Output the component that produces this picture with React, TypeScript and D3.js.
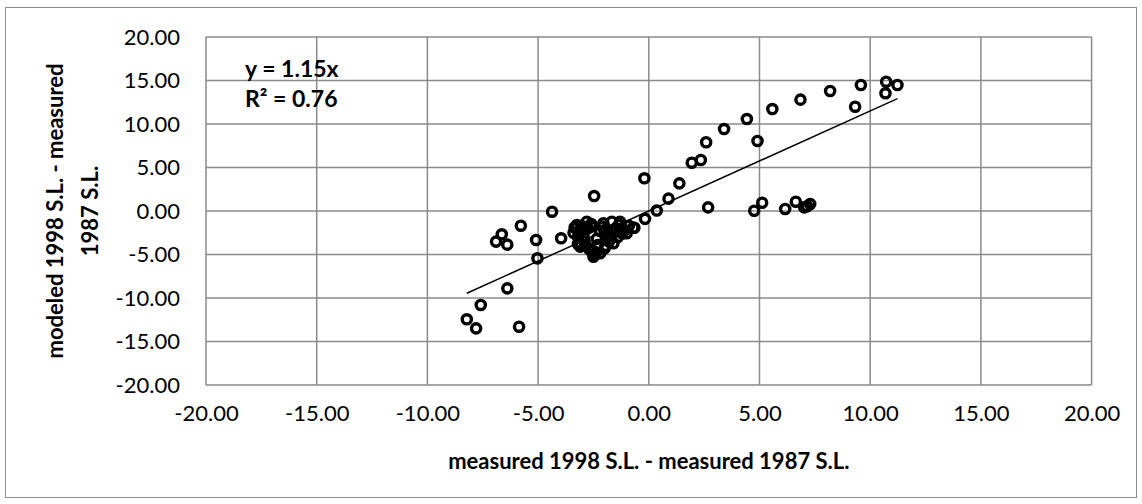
import { useRef, useEffect } from "react";
import * as d3 from "d3";

// measured 1998 S.L. - measured 1987 S.L.
const measured = [
  -0.2, 0.36, 0.89, 1.38, 1.94, 2.35, 2.59, 3.4, 4.43, 4.91, 5.58, 6.85, 8.19, 9.32, 9.58, 10.72, 10.69, 11.23,
  2.68, 4.76, 5.12, 6.16, 6.64, 7.02, 7.29, 7.15,
  -2.47, -4.37, -5.78, -6.64, -6.9, -6.39, -5.09, -5.03, -3.96, -0.17, -0.65,
  -6.39, -7.59, -8.22, -7.8, -5.86,
  -3.25, -2.8, -2.05, -1.67, -1.3, -0.7, -3.1, -2.5, -2.2, -1.6, -1.0,
  -3.4, -3.2, -3.0, -2.9, -2.7, -2.6, -2.2, -2.3, -2.0, -1.9, -1.7, -1.5, -1.4, -1.2, -0.9, -3.3, -2.5, -2.0, -1.8, -1.2,
  -3.35, -3.15, -3.05, -2.95, -2.85, -2.75, -2.6, -2.4, -2.35, -2.1, -1.95, -1.75, -1.55, -1.35, -1.1, -2.45, -2.65, -3.2,
];

// modeled 1998 S.L. - measured 1987 S.L.
const modeled = [
  3.76, 0.05, 1.42, 3.18, 5.55, 5.86, 7.9, 9.42, 10.57, 8.05, 11.72, 12.8, 13.8, 11.99, 14.48, 14.86, 13.53, 14.48,
  0.42, 0.03, 0.95, 0.23, 1.07, 0.42, 0.8, 0.55,
  1.72, -0.08, -1.69, -2.68, -3.52, -3.87, -3.33, -5.44, -3.14, -0.9, -1.92,
  -8.89, -10.8, -12.45, -13.49, -13.3,
  -1.61, -1.23, -1.41, -1.23, -1.23, -1.92, -4.1, -5.25, -4.86, -3.7, -2.56,
  -2.5, -3.0, -2.2, -3.5, -4.3, -1.8, -2.3, -3.9, -2.2, -3.1, -2.5, -2.0, -3.0, -2.0, -1.7, -2.0, -4.6, -4.3, -3.5, -2.6,
  -1.9, -3.6, -1.7, -2.9, -4.0, -2.0, -1.5, -4.9, -3.2, -1.8, -4.0, -2.9, -2.4, -1.6, -2.2, -5.0, -4.5, -3.8,
];

const slope = 1.15;
const rSquared = 0.76;
const ticks = [-20, -15, -10, -5, 0, 5, 10, 15, 20];

const FONT = "Lato, 'Open Sans', sans-serif";

export default function App() {
  const svgRef = useRef<SVGSVGElement>(null);

  useEffect(() => {
    document.body.style.margin = "0";
    if (!svgRef.current) return;
    const svg = d3.select(svgRef.current);
    svg.selectAll("*").remove();

    const W = 1142;
    const H = 504;
    const plot = { left: 206, top: 37, right: 1091.6, bottom: 385 };

    const x = d3.scaleLinear().domain([-20, 20]).range([plot.left, plot.right]);
    const y = d3.scaleLinear().domain([-20, 20]).range([plot.bottom, plot.top]);
    const fmt = (d: d3.NumberValue) => (+d).toFixed(2);

    svg.attr("width", W).attr("height", H);

    svg.append("rect")
      .attr("x", 0).attr("y", 0).attr("width", W).attr("height", H)
      .attr("fill", "#fff");

    // chart border
    svg.append("rect")
      .attr("x", 5.5).attr("y", 7.5)
      .attr("width", 1131).attr("height", 490)
      .attr("fill", "none")
      .attr("stroke", "#8c8c8c")
      .attr("stroke-width", 1);

    // grid
    ticks.forEach((t) => {
      svg.append("line")
        .attr("x1", x(t)).attr("x2", x(t))
        .attr("y1", plot.top).attr("y2", plot.bottom)
        .attr("stroke", "#8a8a8a").attr("stroke-width", 1.5);
      svg.append("line")
        .attr("x1", plot.left).attr("x2", plot.right)
        .attr("y1", y(t)).attr("y2", y(t))
        .attr("stroke", "#8a8a8a").attr("stroke-width", 1.5);
    });

    // tick labels
    const xAxis = d3.axisBottom(x).tickValues(ticks).tickFormat(fmt).tickSize(0).tickPadding(20);
    const gx = svg.append("g").attr("transform", `translate(0,${plot.bottom})`).call(xAxis);
    gx.select(".domain").remove();
    gx.selectAll("text")
      .attr("font-family", FONT).attr("font-size", "22px").attr("fill", "#000");

    const yAxis = d3.axisLeft(y).tickValues(ticks).tickFormat(fmt).tickSize(0).tickPadding(26);
    const gy = svg.append("g").attr("transform", `translate(${plot.left},0)`).call(yAxis);
    gy.select(".domain").remove();
    gy.selectAll("text")
      .attr("font-family", FONT).attr("font-size", "22px").attr("fill", "#000");

    // trendline
    const xs = d3.extent(measured) as [number, number];
    svg.append("line")
      .attr("x1", x(xs[0])).attr("y1", y(slope * xs[0]))
      .attr("x2", x(xs[1])).attr("y2", y(slope * xs[1]))
      .attr("stroke", "#000").attr("stroke-width", 1.5);

    // points
    svg.append("g")
      .selectAll("circle")
      .data(measured.map((m, i) => [m, modeled[i]]))
      .join("circle")
      .attr("cx", (d) => x(d[0]))
      .attr("cy", (d) => y(d[1]))
      .attr("r", 4.6)
      .attr("fill", "none")
      .attr("stroke", "#000")
      .attr("stroke-width", 3.4);

    // equation
    const eq = svg.append("text")
      .attr("font-family", FONT).attr("font-size", "23px").attr("font-weight", "bold")
      .attr("fill", "#000");
    eq.append("tspan").attr("x", 245).attr("y", 77).text(`y = ${slope.toFixed(2)}x`);
    eq.append("tspan").attr("x", 245).attr("y", 107).text(`R² = ${rSquared.toFixed(2)}`);

    // axis titles
    svg.append("text")
      .attr("x", (plot.left + plot.right) / 2).attr("y", 469)
      .attr("text-anchor", "middle")
      .attr("font-family", FONT).attr("font-size", "22px").attr("font-weight", "bold")
      .text("measured 1998 S.L. - measured 1987 S.L.");

    const yt = svg.append("text")
      .attr("transform", `translate(0,${(plot.top + plot.bottom) / 2}) rotate(-90)`)
      .attr("text-anchor", "middle")
      .attr("font-family", FONT).attr("font-size", "22px").attr("font-weight", "bold");
    yt.append("tspan").attr("x", 0).attr("y", 63).text("modeled 1998 S.L. - measured");
    yt.append("tspan").attr("x", 0).attr("y", 98).text("1987 S.L.");
  }, []);

  return <svg ref={svgRef} style={{ display: "block" }} />;
}
